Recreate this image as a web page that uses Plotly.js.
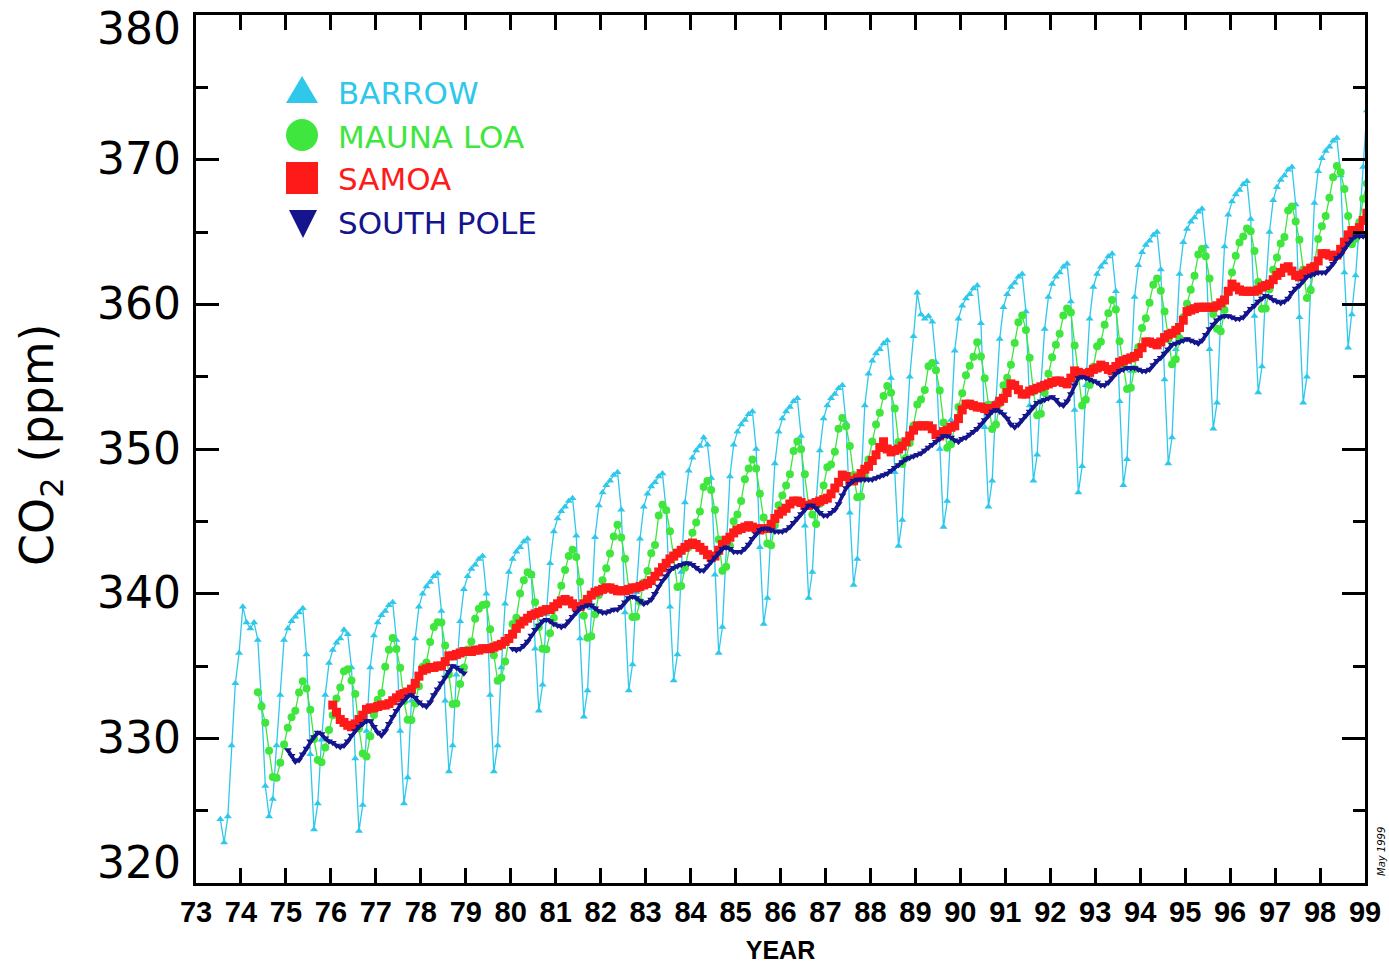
<!DOCTYPE html>
<html>
<head>
<meta charset="utf-8">
<script src="https://cdn.plot.ly/plotly-3.0.1.min.js"></script>
<style>
  html, body { margin: 0; padding: 0; background: #ffffff; }
  #chart { width: 1389px; height: 967px; }
</style>
</head>
<body>
<div id="chart"></div>
<script>
// ---------------- DATA ----------------
const tickYears  = [73,74,75,76,77,78,79,80,81,82,83,84,85,86,87,88,89,90,91,92,93,94,95,96,97,98,99];
const tickLabels = ['73','74','75','76','77','78','79','80','81','82','83','84','85','86','87','88','89','90','91','92','93','94','95','96','97','98','99'];
const yTickValues = [320,330,340,350,360,370,380];
const yMinorValues = [325,335,345,355,365,375];
const seriesNames = ['BARROW', 'MAUNA LOA', 'SAMOA', 'SOUTH POLE'];

// monthly CO2 (ppm); first value month given by *Start = [year, month]
const barrowStart = [1973, 7];
const barrow = [
  324.4, 322.8, 324.6, 329.5, 333.8, 335.9,
  339.1, 338.0, 337.6, 338.0, 336.8, 332.4, 326.7, 324.6, 325.8, 329.5, 333.0, 336.8,
  337.6, 338.1, 338.4, 338.7, 339.0, 335.8, 328.9, 323.7, 325.5, 329.9, 333.0, 335.2,
  336.1, 336.6, 336.9, 337.5, 337.2, 334.9, 328.6, 323.6, 325.4, 330.5, 334.9, 337.1,
  338.0, 338.5, 338.8, 339.2, 339.4, 336.8, 330.5, 325.5, 327.3, 332.6, 336.9, 339.1,
  340.0, 340.5, 340.8, 341.2, 341.4, 338.8, 332.6, 327.7, 329.5, 334.4, 338.1, 340.3,
  341.2, 341.7, 342.0, 342.4, 342.6, 340.0, 333.0, 327.7, 329.5, 334.9, 339.3, 341.5,
  342.4, 342.9, 343.2, 343.6, 343.8, 341.2, 336.2, 331.9, 333.7, 338.6, 342.1, 344.3,
  345.2, 345.7, 346.0, 346.4, 346.6, 344.0, 336.9, 331.5, 333.3, 339.0, 343.9, 346.1,
  347.0, 347.5, 347.8, 348.2, 348.4, 345.8, 338.7, 333.3, 335.1, 340.1, 343.8, 346.0,
  346.9, 347.4, 347.7, 348.1, 348.3, 345.7, 339.1, 334.0, 335.8, 341.5, 346.3, 348.5,
  349.4, 349.9, 350.2, 350.8, 350.3, 348.0, 341.3, 335.9, 337.7, 343.2, 348.1, 350.3,
  351.2, 351.7, 352.0, 352.4, 352.6, 350.0, 343.2, 337.9, 339.7, 344.5, 349.0, 351.2,
  352.1, 352.6, 352.9, 353.3, 353.5, 350.9, 344.7, 339.7, 341.5, 346.3, 349.9, 352.1,
  353.0, 353.5, 353.8, 354.2, 354.4, 351.8, 345.6, 340.6, 342.4, 348.2, 353.0, 355.2,
  356.1, 356.6, 356.9, 357.3, 357.5, 354.9, 348.4, 343.3, 345.1, 350.6, 355.0, 357.8,
  360.8, 359.3, 359.0, 359.2, 358.8, 356.0, 350.0, 344.6, 346.4, 352.0, 356.8, 359.0,
  359.9, 360.4, 360.7, 361.1, 361.3, 358.7, 351.5, 346.0, 347.8, 353.3, 357.6, 359.8,
  360.7, 361.2, 361.5, 361.9, 362.1, 359.5, 353.0, 347.8, 349.6, 354.4, 358.3, 360.5,
  361.4, 361.9, 362.2, 362.6, 362.8, 360.2, 352.7, 347.0, 348.8, 354.4, 359.0, 361.2,
  362.1, 362.6, 362.9, 363.3, 363.5, 360.9, 353.3, 347.5, 349.3, 355.4, 360.5, 362.7,
  363.6, 364.1, 364.4, 364.8, 365.0, 362.4, 354.8, 349.0, 350.8, 356.9, 362.1, 364.3,
  365.2, 365.7, 366.0, 366.4, 366.6, 364.0, 356.9, 351.4, 353.2, 359.1, 364.0, 366.2,
  367.1, 367.6, 367.9, 368.3, 368.5, 365.9, 359.2, 353.9, 355.7, 361.0, 365.0, 367.2,
  368.1, 368.6, 368.9, 369.3, 369.5, 366.9, 359.1, 353.2, 355.0, 361.2, 367.0, 369.2,
  370.1, 370.6, 370.9, 371.3, 371.5, 368.9, 362.2, 357.0, 359.3, 362.0, 365.5, 369.5,
  373.4
];

const maunaLoaStart = [1974, 5];
const maunaLoa = [
  333.19, 332.20, 331.07, 329.15, 327.33, 327.28, 328.31, 329.58,
  330.73, 331.46, 331.90, 333.17, 333.94, 333.45, 331.97, 329.95, 328.50, 328.34, 329.37, 330.58,
  331.59, 332.75, 333.52, 334.64, 334.77, 334.00, 333.06, 330.68, 328.95, 328.75, 330.15, 331.62,
  332.66, 333.13, 334.95, 336.13, 336.93, 336.17, 334.88, 332.56, 331.29, 331.27, 332.41, 333.60,
  334.95, 335.25, 336.66, 337.69, 338.03, 338.01, 336.41, 334.41, 332.37, 332.41, 333.75, 334.90,
  336.14, 336.69, 338.27, 338.96, 339.21, 339.26, 337.54, 335.75, 333.98, 334.19, 335.31, 336.81,
  337.90, 338.34, 340.01, 340.93, 341.48, 341.33, 339.40, 337.70, 336.19, 336.15, 337.27, 338.32,
  339.29, 340.55, 341.63, 342.60, 343.04, 342.54, 340.82, 338.48, 336.95, 337.05, 338.58, 339.91,
  340.93, 341.76, 342.78, 343.96, 344.77, 343.88, 342.42, 340.24, 338.38, 338.41, 339.44, 340.78,
  341.57, 342.79, 343.37, 345.40, 346.14, 345.76, 344.32, 342.51, 340.46, 340.53, 341.79, 343.20,
  344.21, 344.92, 345.68, 347.37, 347.78, 347.16, 345.79, 343.74, 341.59, 341.86, 343.31, 345.00,
  345.48, 346.41, 347.91, 348.66, 349.28, 348.65, 346.90, 345.26, 343.47, 343.35, 344.73, 346.12,
  346.78, 347.48, 348.25, 349.86, 350.52, 349.98, 348.25, 346.17, 345.48, 344.82, 346.22, 347.48,
  348.73, 348.92, 349.81, 351.40, 352.15, 351.58, 350.21, 348.20, 346.66, 346.72, 348.08, 349.28,
  350.51, 351.70, 352.50, 353.67, 354.35, 353.88, 352.80, 350.49, 348.97, 349.37, 350.42, 351.62,
  353.07, 353.43, 354.08, 355.72, 355.95, 355.44, 354.05, 351.84, 350.09, 350.33, 351.55, 352.91,
  353.86, 355.10, 355.75, 356.38, 357.38, 356.39, 354.89, 353.06, 351.38, 351.69, 353.14, 354.41,
  354.93, 355.82, 357.33, 358.77, 359.23, 358.23, 356.30, 353.97, 352.34, 352.43, 353.89, 355.21,
  356.34, 357.21, 357.97, 359.22, 359.71, 359.43, 357.15, 354.99, 353.01, 353.41, 354.42, 355.68,
  357.10, 357.42, 358.59, 359.39, 360.30, 359.64, 357.45, 355.76, 354.14, 354.23, 355.53, 357.03,
  358.36, 359.04, 360.11, 361.36, 361.78, 360.94, 359.51, 357.59, 355.86, 356.21, 357.65, 359.10,
  360.04, 361.00, 361.98, 363.44, 363.83, 363.33, 361.78, 359.33, 358.32, 358.14, 359.61, 360.82,
  362.20, 363.36, 364.28, 364.69, 365.25, 365.06, 363.69, 361.55, 359.69, 359.72, 361.04, 362.39,
  363.24, 364.21, 364.65, 366.49, 366.77, 365.73, 364.46, 362.40, 360.44, 360.98, 362.65, 364.51,
  365.39, 366.10, 367.36, 368.79, 369.56, 369.13, 367.98, 366.10, 364.16, 364.54, 365.67, 367.30,
  368.35
];

const samoaStart = [1976, 1];
const samoa = [
  332.3, 331.8, 331.3, 331.1, 330.9, 330.8, 331.0, 331.3, 331.6, 332.0, 332.1, 332.1,
  332.2, 332.3, 332.3, 332.4, 332.6, 332.8, 333.0, 333.1, 333.2, 333.4, 333.8, 334.3,
  334.7, 334.8, 334.9, 334.9, 335.0, 335.0, 335.3, 335.7, 335.7, 335.8, 335.9, 336.0,
  336.0, 336.0, 336.1, 336.1, 336.2, 336.2, 336.2, 336.3, 336.4, 336.5, 336.7, 336.9,
  337.2, 337.6, 337.9, 338.1, 338.3, 338.5, 338.6, 338.7, 338.8, 338.9, 338.9, 339.1,
  339.3, 339.5, 339.6, 339.5, 339.3, 339.1, 339.1, 339.3, 339.6, 339.9, 340.1, 340.2,
  340.3, 340.4, 340.4, 340.3, 340.2, 340.2, 340.2, 340.3, 340.4, 340.4, 340.5, 340.6,
  340.7, 340.9, 341.2, 341.5, 341.8, 342.1, 342.4, 342.6, 342.8, 343.0, 343.2, 343.4,
  343.5, 343.4, 343.2, 343.0, 342.7, 342.5, 342.6, 343.0, 343.4, 343.7, 343.9, 344.2,
  344.4, 344.5, 344.6, 344.7, 344.6, 344.5, 344.4, 344.5, 344.5, 344.8, 345.2, 345.5,
  345.7, 345.9, 346.2, 346.4, 346.4, 346.3, 346.1, 346.1, 346.2, 346.3, 346.4, 346.5,
  346.6, 346.9, 347.3, 347.7, 348.2, 348.1, 347.8, 347.8, 348.0, 348.3, 348.6, 348.8,
  349.2, 349.6, 350.1, 350.5, 350.0, 349.8, 349.9, 350.0, 350.2, 350.5, 350.9, 351.3,
  351.6, 351.6, 351.6, 351.6, 351.4, 351.0, 350.9, 351.2, 351.3, 351.5, 351.6, 352.1,
  352.7, 353.1, 353.1, 353.0, 352.9, 352.9, 352.8, 352.7, 352.8, 353.0, 353.3, 353.5,
  353.9, 354.5, 354.4, 354.1, 353.8, 353.8, 354.0, 354.1, 354.2, 354.3, 354.4, 354.5,
  354.6, 354.7, 354.7, 354.6, 354.5, 354.9, 355.4, 355.3, 355.2, 355.2, 355.3, 355.5,
  355.6, 355.8, 355.7, 355.5, 355.4, 355.7, 356.0, 356.1, 356.2, 356.3, 356.4, 356.6,
  357.0, 357.4, 357.4, 357.3, 357.2, 357.4, 357.7, 357.9, 358.0, 358.2, 358.4, 358.9,
  359.5, 359.6, 359.7, 359.8, 359.8, 359.8, 359.8, 359.8, 359.9, 360.1, 360.3, 360.9,
  361.4, 361.2, 361.0, 360.9, 360.9, 360.9, 360.9, 361.0, 361.2, 361.3, 361.4, 361.7,
  362.0, 362.2, 362.5, 362.6, 362.3, 362.0, 361.9, 362.1, 362.3, 362.5, 362.6, 363.0,
  363.5, 363.5, 363.4, 363.3, 363.4, 363.8, 364.3, 364.8, 365.1, 365.1, 365.3, 365.8,
  366.3
];

const southPoleStart = [1975, 1];
const southPole = [
  329.2, 328.8, 328.4, 328.5, 328.9, 329.3, 329.8, 330.1, 330.4, 330.3, 330.0, 329.8,
  329.7, 329.5, 329.4, 329.5, 329.8, 330.2, 330.5, 330.8, 331.0, 331.2, 331.2, 330.8,
  330.4, 330.2, 330.5, 331.0, 331.5, 331.9, 332.3, 332.6, 332.9, 333.0, 332.8, 332.5,
  332.3, 332.2, 332.5, 333.0, 333.4, 333.8, 334.2, 334.6, 335.0, 334.9, 334.7, 334.5,
  null, null, null, null, null, null, null, null, null, null, null, null,
  336.2, 336.1, 336.2, 336.4, 336.7, 337.1, 337.5, 337.8, 338.1, 338.2, 338.1, 337.9,
  337.8, 337.7, 337.8, 338.1, 338.4, 338.7, 339.0, 339.1, 339.2, 339.2, 339.0, 338.8,
  338.7, 338.7, 338.8, 338.9, 338.9, 339.1, 339.4, 339.7, 339.8, 339.7, 339.5, 339.3,
  339.4, 339.6, 340.0, 340.5, 340.9, 341.2, 341.6, 341.8, 341.9, 342.0, 342.1, 342.1,
  342.0, 341.8, 341.6, 341.6, 341.9, 342.2, 342.5, 342.8, 343.1, 343.2, 343.1, 342.9,
  342.9, 342.9, 343.1, 343.4, 343.8, 344.1, 344.4, 344.5, 344.5, 344.4, 344.3, 344.3,
  344.3, 344.4, 344.6, 344.9, 345.2, 345.5, 345.8, 346.1, 346.1, 345.9, 345.6, 345.4,
  345.4, 345.6, 345.8, 346.2, 346.8, 347.3, 347.6, 347.8, 347.9, 347.9, 347.9, 347.9,
  347.9, 348.0, 348.1, 348.2, 348.3, 348.5, 348.7, 348.9, 349.1, 349.3, 349.4, 349.5,
  349.6, 349.7, 349.9, 350.1, 350.3, 350.5, 350.7, 350.9, 350.9, 350.8, 350.6, 350.5,
  350.7, 350.8, 351.0, 351.2, 351.4, 351.7, 352.0, 352.3, 352.6, 352.7, 352.6, 352.4,
  352.1, 351.7, 351.5, 351.7, 352.0, 352.3, 352.6, 352.9, 353.2, 353.3, 353.4, 353.5,
  353.6, 353.4, 353.1, 353.0, 353.3, 353.8, 354.4, 354.9, 355.0, 354.9, 354.8, 354.7,
  354.6, 354.4, 354.4, 354.6, 354.9, 355.2, 355.4, 355.5, 355.6, 355.6, 355.6, 355.5,
  355.4, 355.4, 355.5, 355.8, 356.1, 356.3, 356.6, 356.9, 357.2, 357.3, 357.4, 357.5,
  357.6, 357.5, 357.4, 357.3, 357.5, 357.9, 358.3, 358.6, 358.9, 359.1, 359.2, 359.2,
  359.1, 359.0, 359.0, 359.1, 359.4, 359.7, 359.9, 360.2, 360.4, 360.6, 360.5, 360.3,
  360.2, 360.1, 360.2, 360.4, 360.8, 361.1, 361.3, 361.6, 361.9, 362.0, 362.1, 362.2,
  362.2, 362.2, 362.5, 362.8, 363.2, 363.4, 363.8, 364.2, 364.5, 364.7, 364.7, 364.7,
  364.7
];

// --------------- CHART ----------------
function monthX(start, n) {
  const xs = [];
  for (let i = 0; i < n; i++) xs.push(start[0] - 1900 + (start[1] - 1 + i + 0.5) / 12);
  return xs;
}

const COL = ['#2fc8ea', '#3ee63e', '#ff1a1a', '#14148c'];

const traces = [
  { name: seriesNames[0], x: monthX(barrowStart, barrow.length), y: barrow, mode: 'lines+markers',
    line: { color: COL[0], width: 1.3 }, marker: { symbol: 'triangle-up', size: 7, color: COL[0] } },
  { name: seriesNames[1], x: monthX(maunaLoaStart, maunaLoa.length), y: maunaLoa, mode: 'lines+markers',
    line: { color: COL[1], width: 1.3 }, marker: { symbol: 'circle', size: 8, color: COL[1] } },
  { name: seriesNames[2], x: monthX(samoaStart, samoa.length), y: samoa, mode: 'lines+markers',
    line: { color: COL[2], width: 3 }, marker: { symbol: 'square', size: 9, color: COL[2] } },
  { name: seriesNames[3], x: monthX(southPoleStart, southPole.length), y: southPole, mode: 'lines+markers',
    connectgaps: false,
    line: { color: COL[3], width: 3.5 }, marker: { symbol: 'triangle-down', size: 7, color: COL[3] } }
];

const L = 196, R = 1365, T = 15, B = 883;
const W = R - L, H = B - T;
const px = X => (X - L) / W;
const py = Y => (B - Y) / H;

const annotations = [];
// y tick labels
yTickValues.forEach(v => {
  const ys = v === 380 ? -13 : (v === 320 ? 21 : 1);
  annotations.push({ xref: 'paper', yref: 'y', x: 0, y: v, xanchor: 'right', yanchor: 'middle',
    xshift: -13, yshift: ys, showarrow: false, text: String(v),
    font: { family: 'DejaVu Sans', size: 44, color: '#000' } });
});
// y title
annotations.push({ xref: 'paper', yref: 'paper', x: px(40), y: py(445), xanchor: 'center', yanchor: 'middle',
  textangle: -90, showarrow: false, text: 'CO<sub>2</sub> (ppm)',
  font: { family: 'DejaVu Sans', size: 46, color: '#000' } });
// legend labels
const legendRowsY = [92, 136, 178, 222];
seriesNames.forEach((name, i) => {
  annotations.push({ xref: 'paper', yref: 'paper', x: px(336), y: py(legendRowsY[i] + 1), xanchor: 'left', yanchor: 'middle',
    showarrow: false, text: name, font: { family: 'DejaVu Sans', size: 31, color: COL[i] } });
});
// date stamp
annotations.push({ xref: 'paper', yref: 'paper', x: px(1381), y: py(852), xanchor: 'center', yanchor: 'middle',
  textangle: -90, showarrow: false, text: 'May 1999',
  font: { family: 'DejaVu Sans', size: 10, color: '#000', style: 'italic' } });

// legend symbols drawn as pixel-sized shapes
const sx = px(302);
const shapes = [
  { type: 'path', xref: 'paper', yref: 'paper', xsizemode: 'pixel', ysizemode: 'pixel',
    xanchor: sx, yanchor: py(90), path: 'M -16 -13 L 16 -13 L 0 14 Z',
    fillcolor: COL[0], line: { width: 0 } },
  { type: 'circle', xref: 'paper', yref: 'paper', xsizemode: 'pixel', ysizemode: 'pixel',
    xanchor: sx, yanchor: py(135), x0: -16, x1: 16, y0: -16, y1: 16,
    fillcolor: COL[1], line: { width: 0 } },
  { type: 'rect', xref: 'paper', yref: 'paper', xsizemode: 'pixel', ysizemode: 'pixel',
    xanchor: sx, yanchor: py(178), x0: -16, x1: 16, y0: -16, y1: 16,
    fillcolor: COL[2], line: { width: 0 } },
  { type: 'path', xref: 'paper', yref: 'paper', xsizemode: 'pixel', ysizemode: 'pixel',
    xanchor: px(303), yanchor: py(224), path: 'M -14 14 L 14 14 L 0 -14 Z',
    fillcolor: COL[3], line: { width: 0 } }
];

const layout = {
  width: 1389, height: 967,
  margin: { l: L, r: 1389 - R, t: T, b: 967 - B, pad: 0 },
  paper_bgcolor: '#ffffff', plot_bgcolor: '#ffffff',
  showlegend: false,
  xaxis: {
    range: [73, 99], tickmode: 'array', tickvals: tickYears, ticktext: tickLabels,
    ticks: 'inside', ticklen: 15, tickwidth: 3, tickcolor: '#000',
    showline: true, linewidth: 3, linecolor: '#000', mirror: 'allticks',
    showgrid: false, zeroline: false, ticklabelstandoff: 1,
    tickfont: { family: 'Liberation Sans, Arial, sans-serif', size: 29, color: '#000', weight: 'bold' },
    title: { text: 'YEAR', standoff: 15,
      font: { family: 'Liberation Sans, Arial, sans-serif', size: 25, color: '#000', weight: 'bold' } }
  },
  yaxis: {
    range: [320, 380], tickmode: 'array', tickvals: yTickValues, showticklabels: false,
    ticks: 'inside', ticklen: 23, tickwidth: 3, tickcolor: '#000',
    minor: { tickmode: 'array', tickvals: yMinorValues, ticks: 'inside', ticklen: 12, tickwidth: 3, tickcolor: '#000', showgrid: false },
    showline: true, linewidth: 3, linecolor: '#000', mirror: 'allticks',
    showgrid: false, zeroline: false
  },
  shapes: shapes,
  annotations: annotations
};

Plotly.newPlot('chart', traces, layout, { displayModeBar: false, staticPlot: true });
</script>
</body>
</html>
